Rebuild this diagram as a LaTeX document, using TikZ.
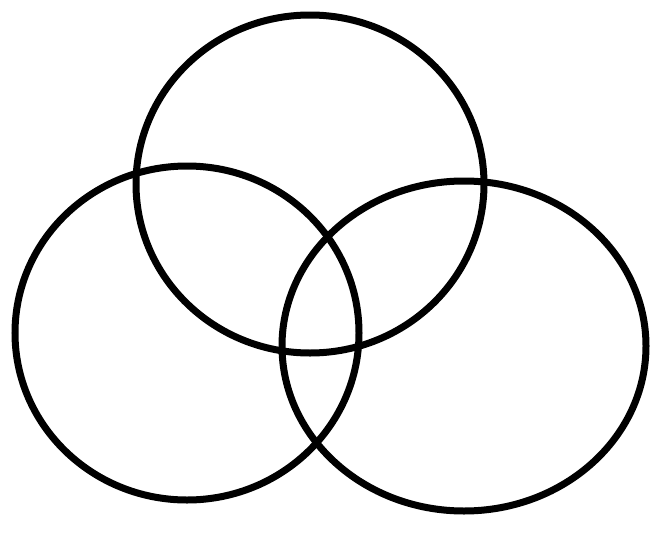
\documentclass[tikz,border=0pt]{standalone}
\begin{document}
\begin{tikzpicture}[x=1pt,y=-1pt,ring/.style={draw=black,line width=7pt}]
\useasboundingbox[fill=white] (0,0) rectangle (672,552);
\draw[ring] (310,184) ellipse [x radius=174, y radius=169];
\draw[ring] (187,333) ellipse [x radius=172, y radius=167];
\draw[ring] (464,346) ellipse [x radius=182, y radius=165];
\end{tikzpicture}
\end{document}
